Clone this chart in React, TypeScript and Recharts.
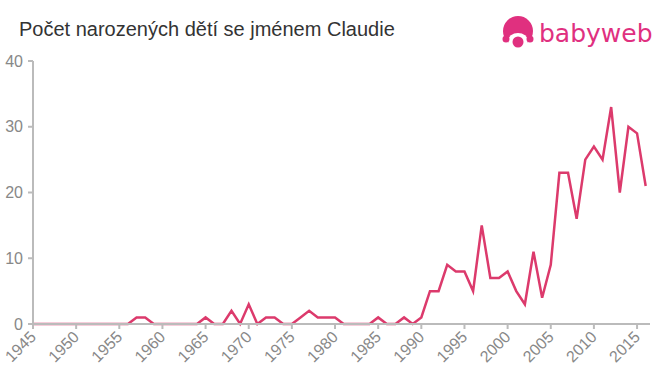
import React from "react";
import { LineChart, Line, XAxis, YAxis } from "recharts";

const years: number[] = [
  1945, 1946, 1947, 1948, 1949, 1950, 1951, 1952, 1953, 1954, 1955, 1956, 1957, 1958, 1959,
  1960, 1961, 1962, 1963, 1964, 1965, 1966, 1967, 1968, 1969, 1970, 1971, 1972, 1973, 1974,
  1975, 1976, 1977, 1978, 1979, 1980, 1981, 1982, 1983, 1984, 1985, 1986, 1987, 1988, 1989,
  1990, 1991, 1992, 1993, 1994, 1995, 1996, 1997, 1998, 1999, 2000, 2001, 2002, 2003, 2004,
  2005, 2006, 2007, 2008, 2009, 2010, 2011, 2012, 2013, 2014, 2015, 2016,
];
const births: number[] = [
  0, 0, 0, 0, 0, 0, 0, 0, 0, 0, 0, 0, 1, 1, 0,
  0, 0, 0, 0, 0, 1, 0, 0, 2, 0, 3, 0, 1, 1, 0,
  0, 1, 2, 1, 1, 1, 0, 0, 0, 0, 1, 0, 0, 1, 0,
  1, 5, 5, 9, 8, 8, 5, 15, 7, 7, 8, 5, 3, 11, 4,
  9, 23, 23, 16, 25, 27, 25, 33, 20, 30, 29, 21,
];
const xTicks: number[] = [1945, 1950, 1955, 1960, 1965, 1970, 1975, 1980, 1985, 1990, 1995, 2000, 2005, 2010, 2015];
const yTicks: number[] = [0, 10, 20, 30, 40];
const title = "Počet narozených dětí se jménem Claudie";

const data = years.map((y, i) => ({ year: y, value: births[i] }));

const FONT = "'Liberation Sans', Arial, Helvetica, sans-serif";
const LINE_COLOR = "#dc3a6c";
const LOGO_COLOR = "#e0307f";

const XTick = (props: any) => {
  const { x, y, payload } = props;
  const ax = x;
  const ay = y + 3;
  return (
    <text
      x={ax}
      y={ay}
      dy="0.35em"
      textAnchor="end"
      transform={`rotate(-45, ${ax}, ${ay})`}
      fill="#888"
      fontSize={16}
      fontFamily={FONT}
    >
      {payload.value}
    </text>
  );
};

export default function App() {
  return (
    <div style={{ position: "absolute", left: 0, top: 0, width: 660, height: 375, background: "#fff" }}>
      <div
        style={{
          position: "absolute",
          left: 19,
          top: 17,
          fontFamily: FONT,
          fontSize: 20,
          color: "#333",
          whiteSpace: "nowrap",
          lineHeight: "24px",
        }}
      >
        {title}
      </div>
      <svg width={160} height={50} style={{ position: "absolute", left: 498, top: 8 }}>
        <circle cx={20} cy={23} r={15} fill={LOGO_COLOR} />
        <ellipse cx={20} cy={33} rx={10} ry={8} fill="#fff" />
        <circle cx={8} cy={31} r={3.5} fill={LOGO_COLOR} />
        <circle cx={32} cy={31} r={3.5} fill={LOGO_COLOR} />
        <circle cx={20} cy={34} r={5.5} fill={LOGO_COLOR} />
        <text x={41} y={34} fontFamily="'DejaVu Sans', Arial, sans-serif" fontSize={25} fill={LOGO_COLOR}>
          babyweb
        </text>
      </svg>
      <LineChart width={660} height={375} data={data} margin={{ top: 61, right: 10, bottom: 0, left: 0 }}>
        <XAxis
          dataKey="year"
          type="number"
          domain={[1945, 2016.5]}
          ticks={xTicks}
          interval={0}
          height={51}
          tick={<XTick />}
          tickSize={5}
          tickMargin={2}
          stroke="#bbb"
          strokeWidth={2}
          allowDataOverflow
        />
        <YAxis
          type="number"
          domain={[0, 40]}
          ticks={yTicks}
          width={33}
          tickSize={5}
          tickMargin={5}
          stroke="#bbb"
          strokeWidth={2}
          tick={{ fill: "#888", fontSize: 16, fontFamily: FONT }}
        />
        <Line
          type="linear"
          dataKey="value"
          stroke={LINE_COLOR}
          strokeWidth={2.5}
          dot={false}
          isAnimationActive={false}
        />
      </LineChart>
    </div>
  );
}
